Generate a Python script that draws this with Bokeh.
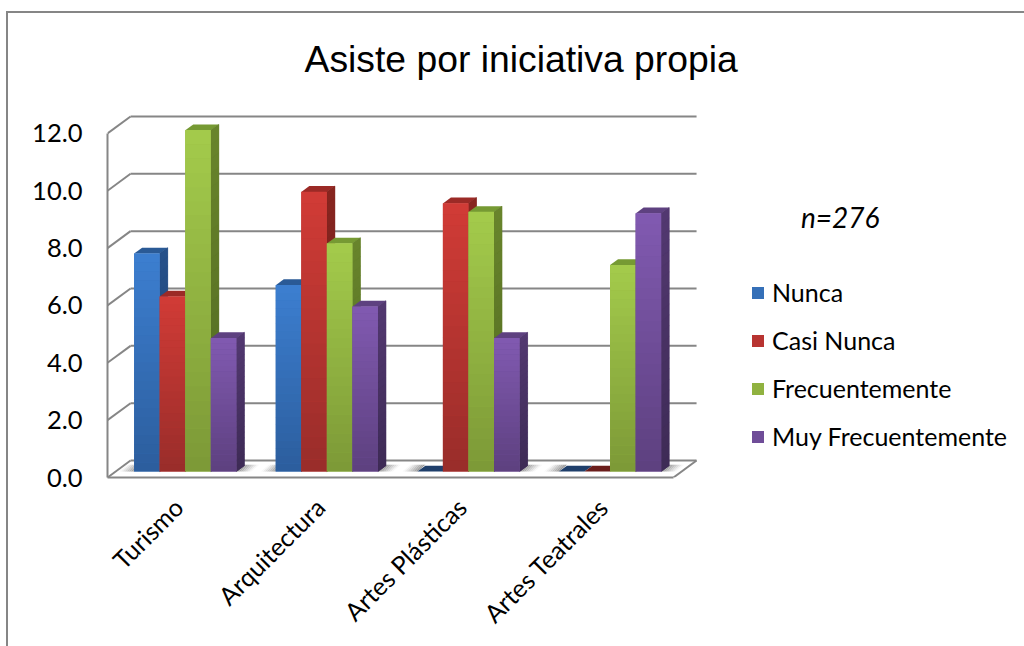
from bokeh.plotting import figure
from bokeh.models import (ColumnDataSource, FixedTicker, NumeralTickFormatter, Legend, LegendItem,
                          Label, Range1d)
from bokeh.embed import file_html
from bokeh.resources import INLINE
import math

# ---- data ----
categories = ["Turismo", "Arquitectura", "Artes Plásticas", "Artes Teatrales"]
series_names = ["Nunca", "Casi Nunca", "Frecuentemente", "Muy Frecuentemente"]
nunca = [7.6, 6.5, 0.0, 0.0]
casi_nunca = [6.1, 9.75, 9.35, 0.0]
frecuentemente = [11.9, 7.95, 9.05, 7.2]
muy_frecuentemente = [4.65, 5.75, 4.65, 9.0]
y_ticks = [0, 2, 4, 6, 8, 10, 12]
n_label = "n=276"
title_text = "Asiste por iniciativa propia"

series_values = [nunca, casi_nunca, frecuentemente, muy_frecuentemente]

# ---- styles ----
front_top = ["#3c7ecf", "#d03b36", "#a3ca4b", "#8059b0"]
front_bot = ["#2c5e9e", "#9a2d2a", "#7d9a37", "#5e4180"]
side_top = ["#26518a", "#87251f", "#68842c", "#523870"]
side_bot = ["#1e3f6c", "#6b1f1c", "#506820", "#3e2b56"]
cap = ["#2a5a96", "#9b2a26", "#769a33", "#5e4180"]
cap_zero = ["#1f3f6b", "#6b1d1b", "#506820", "#3e2b56"]
legend_color = ["#3570b8", "#b83431", "#90b240", "#6f4d98"]
GRID = "#868686"
FONT = "Lato"

# scale of the chart: pixels per unit on each axis
PX_X, PX_Y = 141.3, 28.75
DX, DY = 23 / PX_X, 17 / PX_Y      # full depth of the 3-D box, in data units
D0, D1 = 0.353, 0.70               # depth of the bars' front and back planes
BAR_W = 25.5 / PX_X
X0, X1 = -0.5, 3.497
BAR_SHIFT = -1.2 / PX_X

# page position of the figure's content box (the CSS border lies just outside it)
ORG_X, ORG_Y = 8, 13
W, H = 1024 - ORG_X, 646 - ORG_Y
F_L, F_T, F_B = 107 - ORG_X, 100 - ORG_Y, 477 - ORG_Y

def mix(a, b, t):
    ca = [int(a[i:i + 2], 16) for i in (1, 3, 5)]
    cb = [int(b[i:i + 2], 16) for i in (1, 3, 5)]
    return "#%02x%02x%02x" % tuple(round(p + (q - p) * t) for p, q in zip(ca, cb))

p = figure(width=W, height=H, output_backend="svg", toolbar_location=None,
           x_range=Range1d(X0, X0 + (W - F_L) / PX_X), y_range=Range1d(0, (F_B - F_T) / PX_Y),
           min_border_left=F_L, min_border_right=0, min_border_top=F_T,
           min_border_bottom=H - F_B + 2,
           background_fill_color="white", border_fill_color="white", outline_line_color=None)
p.styles = {"position": "absolute", "left": f"{ORG_X - 2}px", "top": f"{ORG_Y - 2}px",
            "box-sizing": "content-box",
            "border-left": f"2px solid {GRID}", "border-top": f"2px solid {GRID}"}

p.title.text = title_text
p.title.text_font = "Liberation Sans"
p.title.text_font_size = "37.3px"
p.title.text_font_style = "normal"
p.title.text_color = "#000000"
p.title.align = "left"
p.title.offset = 197
p.title.standoff = 44

p.grid.visible = False

# axes
ya = p.yaxis[0]
ya.ticker = FixedTicker(ticks=y_ticks)
ya.formatter = NumeralTickFormatter(format="0.0")
ya.bounds = (0, 12)
ya.axis_line_color = GRID
ya.axis_line_width = 2
ya.major_tick_line_color = None
ya.minor_tick_line_color = None
ya.major_tick_out = 0
ya.major_label_standoff = 25
ya.major_label_text_font = FONT
ya.major_label_text_font_size = "25.5px"
ya.major_label_text_color = "#000000"

xa = p.xaxis[0]
xa.ticker = FixedTicker(ticks=list(range(len(categories))))
xa.major_label_overrides = {i: c for i, c in enumerate(categories)}
xa.bounds = (X0, X1)
xa.axis_line_color = GRID
xa.axis_line_width = 2
xa.major_tick_line_color = None
xa.minor_tick_line_color = None
xa.major_tick_out = 0
xa.major_label_standoff = 25
xa.major_label_orientation = math.pi / 4
xa.major_label_text_font = FONT
xa.major_label_text_font_size = "25px"
xa.major_label_text_color = "#000000"

# 3-D box: back wall lines, side wall lines, floor edge
p.segment(x0=[X0 + DX] * len(y_ticks), y0=[v + DY for v in y_ticks],
          x1=[X1 + DX] * len(y_ticks), y1=[v + DY for v in y_ticks],
          line_color=GRID, line_width=2)
p.segment(x0=[X0] * len(y_ticks), y0=y_ticks,
          x1=[X0 + DX] * len(y_ticks), y1=[v + DY for v in y_ticks],
          line_color=GRID, line_width=2)
p.segment(x0=[X1], y0=[0], x1=[X1 + DX], y1=[DY], line_color=GRID, line_width=2)

# floor shadows around each group of bars
STR = 8
for g in range(len(categories)):
    xl = g - 2 * BAR_W + D0 * DX + BAR_SHIFT
    xr = g + 2 * BAR_W + D0 * DX + BAR_SHIFT
    xs, ys, cs = [], [], []
    ya0, ya1 = D0 * DY, (D0 + 0.40) * DY
    for k in range(STR):
        w = 15 / PX_X
        t0, t1 = k / STR, (k + 1) / STR
        col = mix("#8e8e8e", "#ffffff", (k + 0.5) / STR)
        xs.append([xr + w * t0, xr + w * t1, xr + w * t1 + 8 / PX_X, xr + w * t0 + 8 / PX_X])
        ys.append([ya0, ya0, ya1, ya1]); cs.append(col)
        xs.append([xl - w * t0, xl - w * t1, xl - w * t1 + 8 / PX_X, xl - w * t0 + 8 / PX_X])
        ys.append([ya0, ya0, ya1, ya1]); cs.append(col)
    p.patches(xs, ys, fill_color=cs, line_color=None)

# bars
N = 24
items = []
for s, (name, vals) in enumerate(zip(series_names, series_values)):
    offs = (s - 1.5) * BAR_W
    lefts = [g + offs + D0 * DX - BAR_W / 2 + BAR_SHIFT for g in range(len(vals))]
    rights = [l + BAR_W for l in lefts]
    base = D0 * DY
    h = D1 - D0
    # top faces, then a solid side face that the shaded slices sit on
    top_x, top_y, side_x, side_y, side_c, sb_x, sb_y = [], [], [], [], [], [], []
    for l, r, v in zip(lefts, rights, vals):
        top_x.append([l, r, r + h * DX, l + h * DX])
        top_y.append([v + base, v + base, v + base + h * DY, v + base + h * DY])
    colors = [cap[s] if v > 0 else cap_zero[s] for v in vals]
    p.patches(top_x, top_y, fill_color=colors, line_color=None)
    for l, r, v in zip(lefts, rights, vals):
        if v <= 0:
            continue
        sb_x.append([r, r + h * DX, r + h * DX, r])
        sb_y.append([base, base + h * DY, v + base + h * DY, v + base])
        for k in range(N):
            a, b = v * k / N, v * (k + 1) / N
            side_x.append([r, r + h * DX, r + h * DX, r])
            side_y.append([a + base, a + base + h * DY, b + base + h * DY, b + base])
            side_c.append(mix(side_bot[s], side_top[s], k / (N - 1)))
    if side_x:
        p.patches(sb_x, sb_y, fill_color=mix(side_bot[s], side_top[s], 0.5), line_color=None)
        p.patches(side_x, side_y, fill_color=side_c, line_color=side_c, line_width=0.6)
    # front faces: one quad per bar, overlaid by slices for the shading
    src = ColumnDataSource(dict(left=lefts, right=rights, top=[v + base for v in vals],
                                bottom=[base] * len(vals)))
    r0 = p.quad(left="left", right="right", top="top", bottom="bottom", source=src,
                fill_color=legend_color[s], line_color=None)
    items.append(LegendItem(label=name, renderers=[r0]))
    sl, sr, sb, st, sc = [], [], [], [], []
    for l, r, v in zip(lefts, rights, vals):
        if v <= 0:
            continue
        for k in range(N):
            sl.append(l); sr.append(r)
            sb.append(base + v * k / N)
            st.append(base + v * (k + 1.02) / N)
            sc.append(mix(front_bot[s], front_top[s], k / (N - 1)))
    p.quad(left=sl, right=sr, bottom=sb, top=st, fill_color=sc, line_color=None)

legend = Legend(items=items, location=(750 - 107, 26), orientation="vertical",
                glyph_width=15, glyph_height=15, label_standoff=7, spacing=18, padding=0, margin=0,
                label_text_font=FONT, label_text_font_size="25px", label_text_color="#000000",
                background_fill_alpha=0, border_line_color=None)
p.add_layout(legend, "center")

p.add_layout(Label(x=X0 + (799 - 107) / PX_X, y=(477 - 216) / PX_Y, text=n_label, text_font=FONT,
                   text_font_size="28px", text_font_style="italic", text_color="#000000",
                   text_baseline="middle", text_align="left"))

open("out.html", "w").write(file_html(p, INLINE))
